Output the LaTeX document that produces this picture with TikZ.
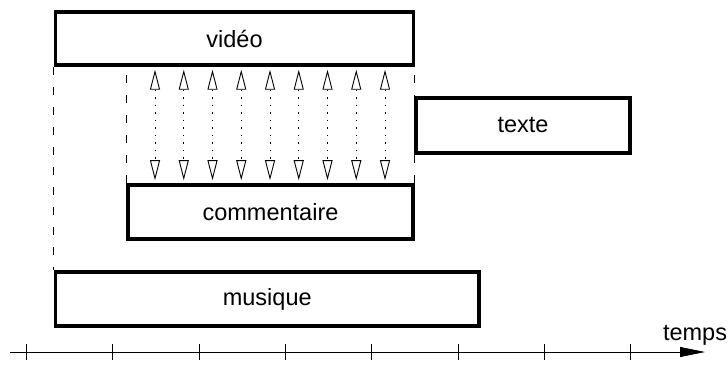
\documentclass[tikz,border=0pt]{standalone}
\usepackage{fontspec}
\setmainfont{Liberation Sans}
\usetikzlibrary{arrows.meta}
\begin{document}
\begin{tikzpicture}[x=1pt,y=-1pt,
 box/.style={draw, line width=3.5pt, inner sep=0pt, font=\fontsize{23.5}{28}\selectfont},
 guide/.style={line width=0.8pt, dash pattern=on 8pt off 12pt},
 link/.style={line width=0.9pt, dash pattern=on 1.5pt off 6pt,
   {Triangle[open,length=20pt,width=10pt]}-{Triangle[open,length=20pt,width=10pt]},
   shorten <=3pt, shorten >=3pt},
 axis/.style={line width=0.8pt},
 lbl/.style={font=\fontsize{23.5}{28}\selectfont, inner sep=0pt}]
\useasboundingbox (0,0) rectangle (728,366);
\node[box, minimum width=358pt, minimum height=53pt] (video) at (234.5,38.5) {vidéo};
\node[box, minimum width=214pt, minimum height=55pt] (texte) at (523,125.5) {texte};
\node[box, minimum width=285pt, minimum height=54pt] (comment) at (270.5,212) {commentaire};
\node[box, minimum width=423.5pt, minimum height=54pt] (musique) at (267.25,299) {musique};
\draw[guide] (video.south west) -- (musique.north west);
\draw[guide] (comment.north west) -- (comment.north west |- video.south);
\draw[guide] (comment.north east) -- (comment.north east |- video.south);
\foreach \i in {0,...,8} {
  \coordinate (t\i) at (155+28.75*\i, 0);
  \draw[link] (t\i |- video.south) -- (t\i |- comment.north);
}
\coordinate (ax0) at (10,352);
\coordinate (ax1) at (705,352);
\draw[axis, -{Triangle[length=25pt,width=10pt]}] (ax0) -- (ax1);
\foreach \i in {0,...,7} {
  \coordinate (k\i) at (26.5+86.3*\i, 352);
  \draw[axis] ([yshift=-8pt]k\i) -- ([yshift=8pt]k\i);
}
\node[lbl] (temps) at (695,335) {temps};
\end{tikzpicture}
\end{document}
